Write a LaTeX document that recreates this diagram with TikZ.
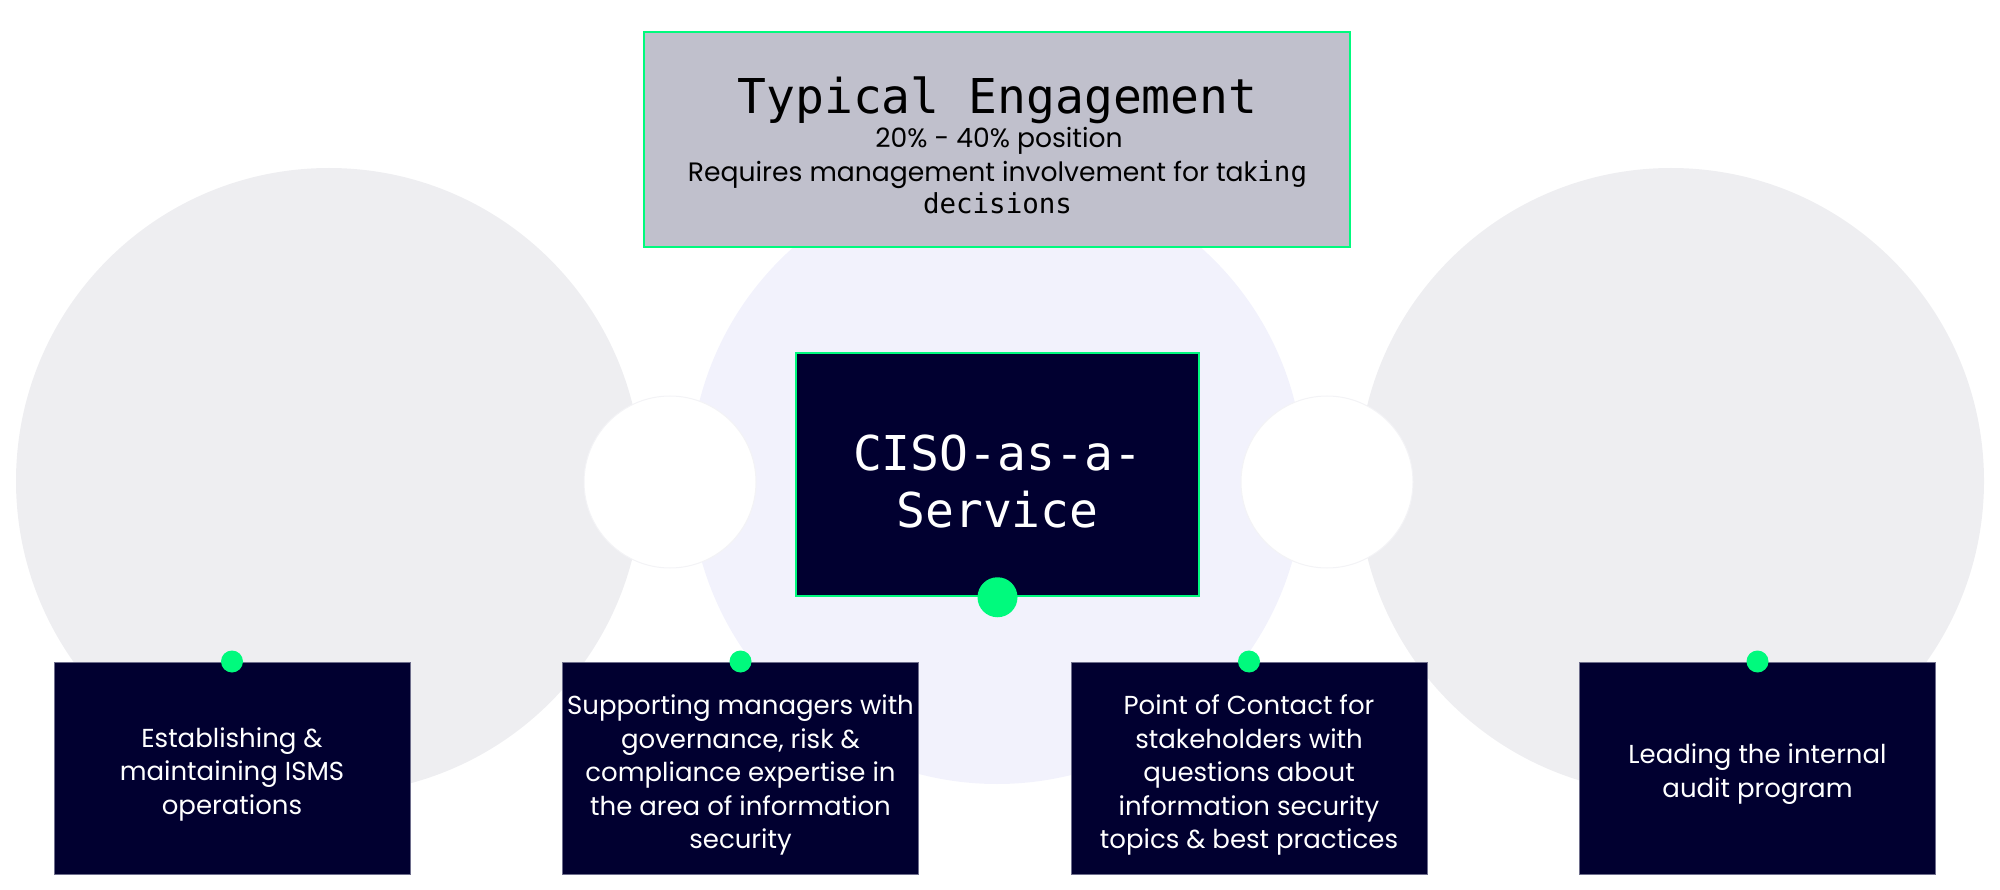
\documentclass[tikz,border=0pt]{standalone}
\usepackage{fontspec}
\setmainfont{Poppins}
\newfontfamily\monof{DejaVu Sans Mono}
\definecolor{circgray}{HTML}{EEEEF1}
\definecolor{circlav}{HTML}{F2F2FC}
\definecolor{titlefill}{HTML}{C0C0CC}
\definecolor{accent}{HTML}{00FA7D}
\definecolor{navy}{HTML}{010030}
\definecolor{boxedge}{HTML}{6E6E8C}
\definecolor{whiteedge}{HTML}{F3F3F6}
\begin{document}
\begin{tikzpicture}[x=1pt,y=-1pt,
  graydisc/.style={fill=circgray},
  lavdisc/.style={fill=circlav},
  holedisc/.style={fill=white, draw=whiteedge, line width=1pt},
  titlebox/.style={draw=accent, line width=2.5pt, fill=titlefill, minimum width=706pt, minimum height=215pt, inner sep=0pt},
  centerbox/.style={draw=accent, line width=2.5pt, fill=navy, minimum width=403pt, minimum height=243pt, inner sep=0pt},
  featurebox/.style={draw=boxedge, line width=1pt, fill=navy, minimum width=356pt, minimum height=212pt, inner sep=0pt},
  featuretext/.style={text=white, align=center, inner sep=0pt, font=\fontsize{26}{33.5}\selectfont},
  pin/.style={circle, fill=accent, minimum size=22pt, inner sep=0pt},
  bigpin/.style={circle, fill=accent, minimum size=40pt, inner sep=0pt},
  monotitle/.style={inner sep=0pt, anchor=base, font=\monof\fontsize{48}{56}\selectfont},
  sansline/.style={inner sep=0pt, anchor=base, font=\fontsize{26.6}{33}\selectfont},
  cisotext/.style={text=white, align=center, inner sep=0pt, font=\monof\fontsize{48}{57}\selectfont}
]
\useasboundingbox (0,0) rectangle (2000,890);
% background discs
\fill[graydisc] (329,481) circle[radius=313pt];
\fill[graydisc] (1671,481) circle[radius=313pt];
\fill[lavdisc] (997,477) circle[radius=307pt];
\filldraw[holedisc] (670,482) circle[radius=86pt];
\filldraw[holedisc] (1327,482) circle[radius=86pt];
% title box
\node[titlebox] (title) at (997,139.5) {};
\node[monotitle] (titleA) at (997.5,114) {Typical Engagement};
\node[sansline] (titleB) at (999,148) {20\% - 40\% position};
\node[sansline] (titleC) at (997.5,182) {Requires management involvement for tak{\monof\fontsize{27.5}{33}\selectfont ing}};
\node[inner sep=0pt, anchor=base, font=\monof\fontsize{27.5}{33}\selectfont] (titleD) at (997.5,213.5) {decisions};
% centre box
\node[centerbox] (ciso) at (997.5,474.5) {};
\node[cisotext] (cisoT) at (997.5,482) {CISO-as-a-\\Service};
\node[bigpin] (cisopin) at (ciso.south) {};
% feature boxes
\node[featurebox] (b1) at (232,768) {};
\node[featurebox] (b2) at (740.5,768) {};
\node[featurebox] (b3) at (1249,768) {};
\node[featurebox] (b4) at (1757.5,768) {};
\node[featuretext] (t1) at (232,774) {Establishing \&\\maintaining ISMS\\operations};
\node[featuretext] (t2) at (740.5,775) {Supporting managers with\\governance, risk \&\\compliance expertise in\\the area of information\\security};
\node[featuretext] (t3) at (1249,775) {Point of Contact for\\stakeholders with\\questions about\\information security\\topics \& best practices};
\node[featuretext] (t4) at (1757.5,774) {Leading the internal\\audit program};
\node[pin] (p1) at (b1.north) {};
\node[pin] (p2) at (b2.north) {};
\node[pin] (p3) at (b3.north) {};
\node[pin] (p4) at (b4.north) {};
\end{tikzpicture}
\end{document}
